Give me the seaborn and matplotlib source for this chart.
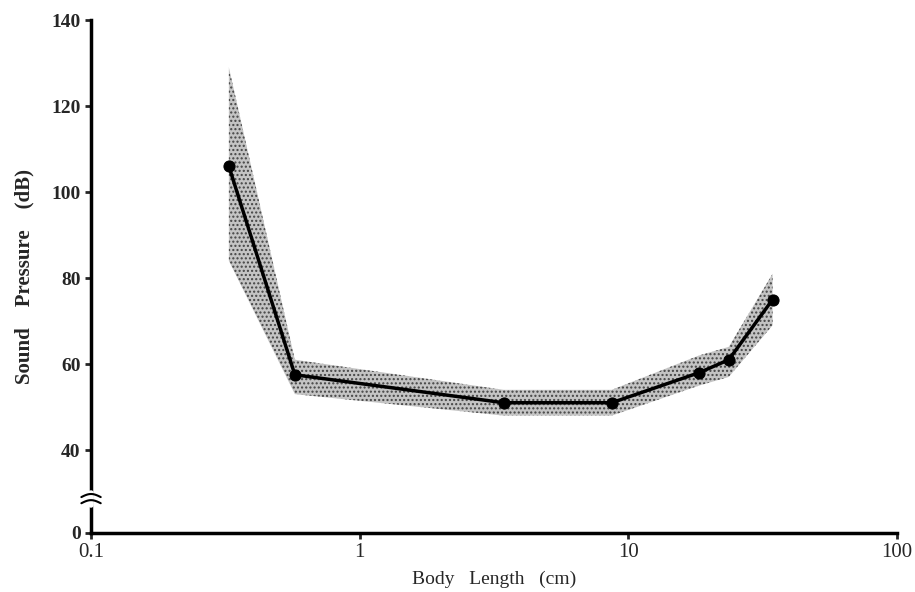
import numpy as np
import pandas as pd
import matplotlib
matplotlib.use("Agg")
import matplotlib.pyplot as plt
import seaborn as sns

body_length = [0.326, 0.574, 3.44, 8.69, 18.4, 23.7, 34.5]
sound_pressure = [106, 57.5, 51, 51, 58, 61, 75]
band_lower = [84, 53, 48, 48, 55, 57, 69]
band_upper = [129, 61, 54, 54, 62, 64, 81]

y_ticks = [40, 60, 80, 100, 120, 140]
y_zero_pos = 20.7  # where "0" sits below the axis break
x_ticks = [0.1, 1, 10, 100]
x_tick_labels = ["0.1", "1", "10", "100"]

df = pd.DataFrame({"length": body_length, "spl": sound_pressure})

sns.set_style("ticks")
plt.rcParams["font.family"] = ["Liberation Serif", "DejaVu Serif"]

fig = plt.figure(figsize=(9.15, 5.92), dpi=100)
ax = fig.add_axes([0.0995, 0.0997, 0.8805, 0.8663])

ax.fill_between(body_length, band_lower, band_upper, facecolor="#c4c4c4",
                edgecolor="#444444", hatch="....", linewidth=0, zorder=1)
sns.lineplot(data=df, x="length", y="spl", ax=ax, color="black", linewidth=2.5,
             marker="o", markersize=8, markeredgecolor="black", zorder=3)

ax.set_xscale("log")
ax.set_xlim(0.1, 100)
ax.set_ylim(y_zero_pos, 140)
ax.set_xticks(x_ticks)
ax.set_xticklabels(x_tick_labels)
ax.xaxis.set_minor_locator(matplotlib.ticker.NullLocator())
ax.set_yticks([y_zero_pos] + y_ticks)
ax.set_yticklabels(["0"] + [str(v) for v in y_ticks])

ax.set_xlabel("Body   Length   (cm)", fontsize=14, labelpad=6)
ax.set_ylabel("Sound    Pressure    (dB)", fontsize=15, fontweight="bold", labelpad=12)
ax.tick_params(axis="both", width=2, length=4, direction="out")
ax.tick_params(axis="x", labelsize=15)
ax.tick_params(axis="y", labelsize=14)
for lbl in ax.get_yticklabels():
    lbl.set_fontweight("bold")

sns.despine(ax=ax)
for s in ["left", "bottom"]:
    ax.spines[s].set_linewidth(2.5)
    ax.spines[s].set_color("black")

# axis break marks on the y axis
brk = 0.058
ax.plot([0, 0], [brk - 0.004, brk + 0.02], transform=ax.transAxes,
        color="white", linewidth=4, clip_on=False, zorder=5)
for off in (0.0, 0.012):
    xs = np.linspace(-0.012, 0.012, 20)
    ys = brk + off + 0.006 * np.sin((xs + 0.012) / 0.024 * np.pi)
    ax.plot(xs, ys, transform=ax.transAxes, color="black", linewidth=1.5,
            clip_on=False, zorder=6)

plt.savefig("out.png", dpi=100)
